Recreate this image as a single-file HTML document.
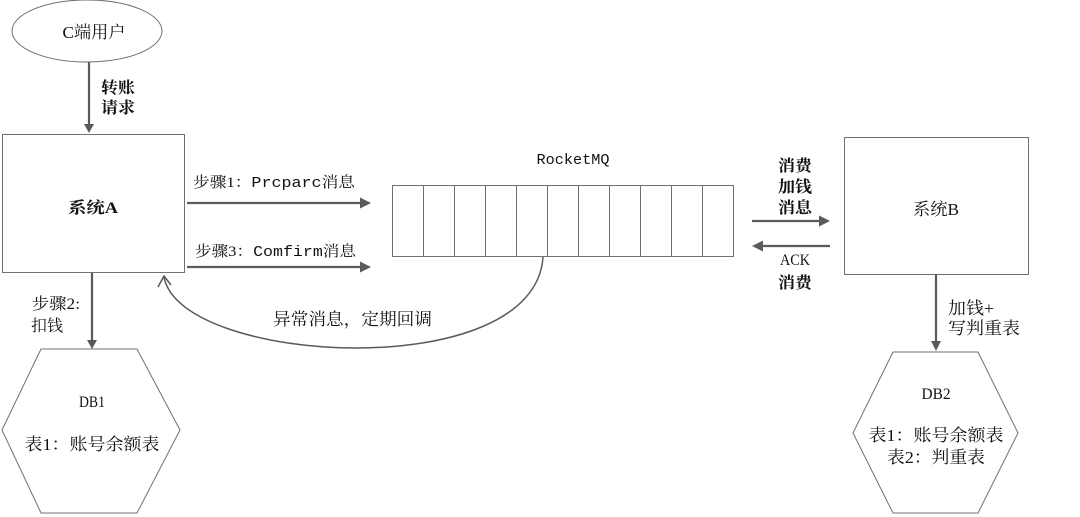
<!DOCTYPE html>
<html>
<head>
<meta charset="utf-8">
<style>
  html,body{margin:0;padding:0;background:#fff;}
  svg{display:block;}
  text{font-family:"Liberation Serif","Noto Serif CJK SC",serif;fill:#111;}
  .b{font-weight:bold;}
  .m{font-family:"Liberation Mono","Noto Serif CJK SC",monospace;}
</style>
</head>
<body>
<svg width="1080" height="517" viewBox="0 0 1080 517" xmlns="http://www.w3.org/2000/svg">
  <rect x="0" y="0" width="1080" height="517" fill="#fff"/>

  <!-- C端用户 ellipse -->
  <ellipse cx="87" cy="31" rx="75" ry="31" fill="#fff" stroke="#707070" stroke-width="1"/>
  <text x="94" y="38" font-size="17" text-anchor="middle" textLength="63" lengthAdjust="spacingAndGlyphs">C端用户</text>

  <!-- arrow to System A -->
  <line x1="89" y1="62" x2="89" y2="126" stroke="#5a5a5a" stroke-width="2.2"/>
  <polygon points="84,124 94,124 89,133" fill="#5a5a5a"/>
  <text x="101" y="93" font-size="16" class="b" textLength="34" lengthAdjust="spacingAndGlyphs">转账</text>
  <text x="101" y="113" font-size="16" class="b" textLength="34" lengthAdjust="spacingAndGlyphs">请求</text>

  <!-- System A -->
  <rect x="2.5" y="134.5" width="182" height="138" fill="#fff" stroke="#707070" stroke-width="1"/>
  <text x="93" y="213" font-size="16" class="b" text-anchor="middle" textLength="50" lengthAdjust="spacingAndGlyphs">系统A</text>

  <!-- step1 -->
  <text x="193" y="187" font-size="15" textLength="162" lengthAdjust="spacingAndGlyphs">步骤1：<tspan class="m">Prcparc</tspan>消息</text>
  <line x1="187" y1="203" x2="362" y2="203" stroke="#5a5a5a" stroke-width="2.2"/>
  <polygon points="360,197.5 371,203 360,208.5" fill="#5a5a5a"/>

  <!-- step3 -->
  <text x="195" y="256" font-size="15" textLength="161" lengthAdjust="spacingAndGlyphs">步骤3：<tspan class="m">Comfirm</tspan>消息</text>
  <line x1="187" y1="267" x2="362" y2="267" stroke="#5a5a5a" stroke-width="2.2"/>
  <polygon points="360,261.5 371,267 360,272.5" fill="#5a5a5a"/>

  <!-- RocketMQ -->
  <text x="573" y="164" font-size="15" class="m" text-anchor="middle" textLength="73" lengthAdjust="spacingAndGlyphs">RocketMQ</text>
  <rect x="392.5" y="185.5" width="341" height="71" fill="#fff" stroke="#707070" stroke-width="1"/>
  <g stroke="#707070" stroke-width="1">
    <line x1="423.5" y1="185.5" x2="423.5" y2="256.5"/>
    <line x1="454.5" y1="185.5" x2="454.5" y2="256.5"/>
    <line x1="485.5" y1="185.5" x2="485.5" y2="256.5"/>
    <line x1="516.5" y1="185.5" x2="516.5" y2="256.5"/>
    <line x1="547.5" y1="185.5" x2="547.5" y2="256.5"/>
    <line x1="578.5" y1="185.5" x2="578.5" y2="256.5"/>
    <line x1="609.5" y1="185.5" x2="609.5" y2="256.5"/>
    <line x1="640.5" y1="185.5" x2="640.5" y2="256.5"/>
    <line x1="671.5" y1="185.5" x2="671.5" y2="256.5"/>
    <line x1="702.5" y1="185.5" x2="702.5" y2="256.5"/>
  </g>

  <!-- callback curve -->
  <path d="M543,257 C535,385 180,365 164,277" fill="none" stroke="#5a5a5a" stroke-width="1.5"/>
  <polyline points="158,287 164,276 171,285" fill="none" stroke="#5a5a5a" stroke-width="1.5"/>
  <text x="273" y="325" font-size="17" textLength="159" lengthAdjust="spacingAndGlyphs">异常消息，定期回调</text>

  <!-- consume arrow -->
  <text x="795" y="171" font-size="16" class="b" text-anchor="middle" textLength="34" lengthAdjust="spacingAndGlyphs">消费</text>
  <text x="795" y="192" font-size="16" class="b" text-anchor="middle" textLength="34" lengthAdjust="spacingAndGlyphs">加钱</text>
  <text x="795" y="213" font-size="16" class="b" text-anchor="middle" textLength="34" lengthAdjust="spacingAndGlyphs">消息</text>
  <line x1="752" y1="221" x2="821" y2="221" stroke="#5a5a5a" stroke-width="2.2"/>
  <polygon points="819,215.5 830,221 819,226.5" fill="#5a5a5a"/>

  <!-- ACK arrow -->
  <line x1="761" y1="246" x2="830" y2="246" stroke="#5a5a5a" stroke-width="2.2"/>
  <polygon points="763,240.5 752,246 763,251.5" fill="#5a5a5a"/>
  <text x="795" y="265" font-size="16" text-anchor="middle" textLength="30" lengthAdjust="spacingAndGlyphs">ACK</text>
  <text x="795" y="288" font-size="16" class="b" text-anchor="middle" textLength="34" lengthAdjust="spacingAndGlyphs">消费</text>

  <!-- System B -->
  <rect x="844.5" y="137.5" width="184" height="137" fill="#fff" stroke="#707070" stroke-width="1"/>
  <text x="936" y="215" font-size="17" text-anchor="middle" textLength="46" lengthAdjust="spacingAndGlyphs">系统B</text>

  <!-- B to DB2 -->
  <line x1="936" y1="274" x2="936" y2="343" stroke="#5a5a5a" stroke-width="2.2"/>
  <polygon points="931,341 941,341 936,351" fill="#5a5a5a"/>
  <text x="948" y="314" font-size="17" textLength="46" lengthAdjust="spacingAndGlyphs">加钱+</text>
  <text x="948" y="334" font-size="17" textLength="72" lengthAdjust="spacingAndGlyphs">写判重表</text>

  <!-- DB2 -->
  <polygon points="893,352 978,352 1018,433 978,513 893,513 853,433" fill="#fff" stroke="#707070" stroke-width="1"/>
  <text x="936" y="399" font-size="16" text-anchor="middle" textLength="29" lengthAdjust="spacingAndGlyphs">DB2</text>
  <text x="936" y="441" font-size="17" text-anchor="middle" textLength="135" lengthAdjust="spacingAndGlyphs">表1：账号余额表</text>
  <text x="936" y="463" font-size="17" text-anchor="middle" textLength="98" lengthAdjust="spacingAndGlyphs">表2：判重表</text>

  <!-- A to DB1 -->
  <line x1="92" y1="273" x2="92" y2="342" stroke="#5a5a5a" stroke-width="2.2"/>
  <polygon points="87,340 97,340 92,349" fill="#5a5a5a"/>
  <text x="32" y="309" font-size="16" textLength="48" lengthAdjust="spacingAndGlyphs">步骤2:</text>
  <text x="31" y="331" font-size="16" textLength="32" lengthAdjust="spacingAndGlyphs">扣钱</text>

  <!-- DB1 -->
  <polygon points="41,349 137,349 180,430 137,513 41,513 2,430" fill="#fff" stroke="#707070" stroke-width="1"/>
  <text x="92" y="407" font-size="16" text-anchor="middle" textLength="26" lengthAdjust="spacingAndGlyphs">DB1</text>
  <text x="92" y="450" font-size="17" text-anchor="middle" textLength="135" lengthAdjust="spacingAndGlyphs">表1：账号余额表</text>
</svg>
</body>
</html>
